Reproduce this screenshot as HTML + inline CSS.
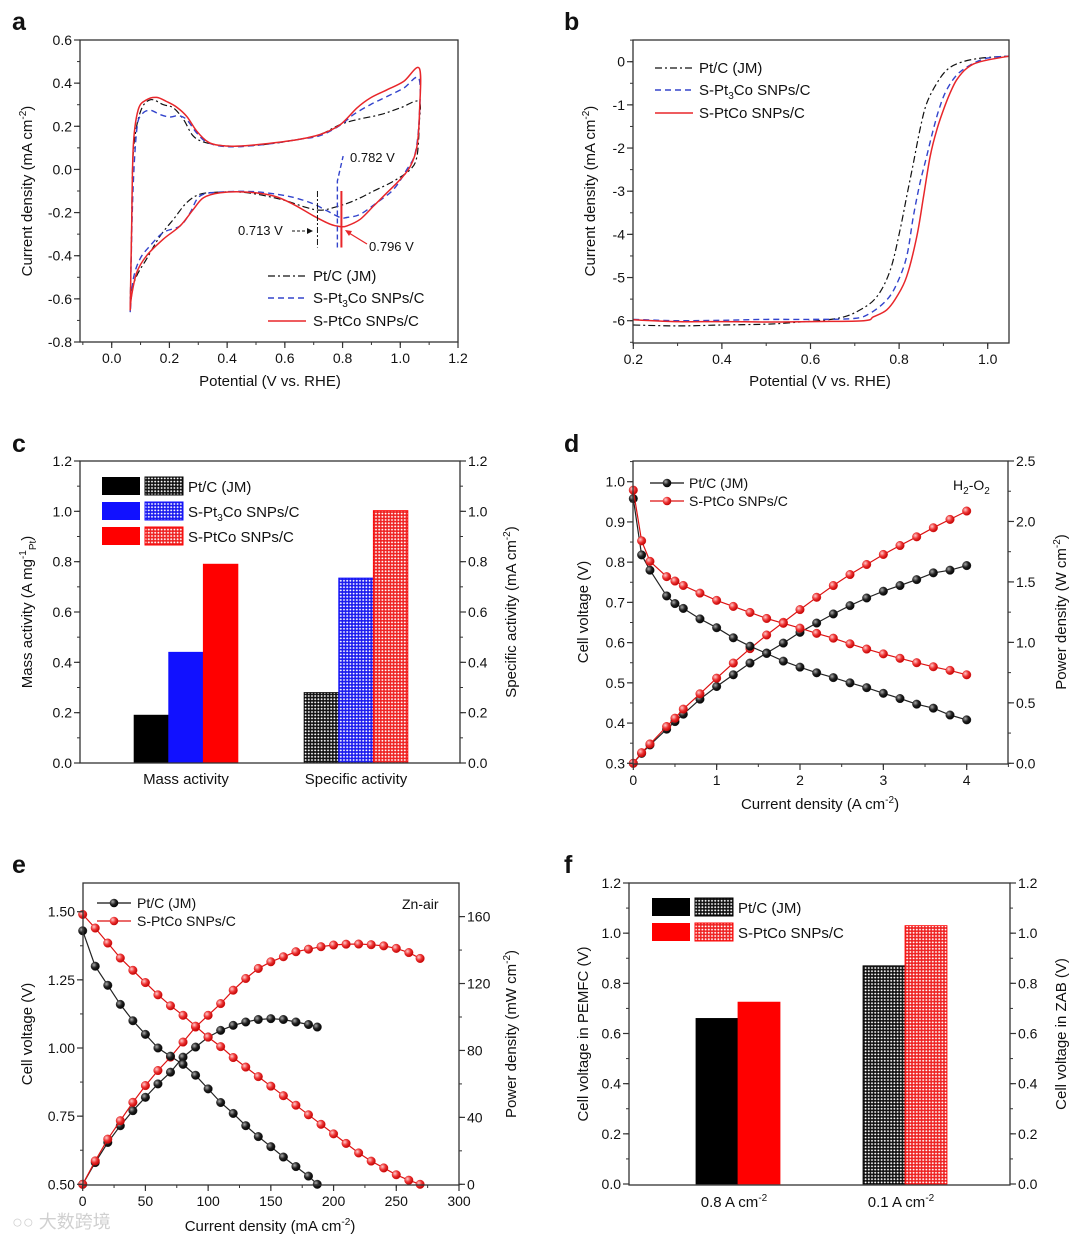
<!DOCTYPE html>
<html><head><meta charset="utf-8"><style>
html,body{margin:0;padding:0;background:#fff;}
svg{display:block;font-family:"Liberation Sans",Arial,sans-serif;}
text{fill:#111;}
</style></head>
<body>
<svg id="fig" width="1080" height="1240" viewBox="0 0 1080 1240" xmlns="http://www.w3.org/2000/svg">
<defs>
<radialGradient id="gBlack" cx="0.35" cy="0.35" r="0.7"><stop offset="0" stop-color="#aaa"/><stop offset="0.5" stop-color="#222"/><stop offset="1" stop-color="#000"/></radialGradient>
<radialGradient id="gRed" cx="0.35" cy="0.35" r="0.7"><stop offset="0" stop-color="#fcc"/><stop offset="0.5" stop-color="#e33"/><stop offset="1" stop-color="#b00"/></radialGradient>
<pattern id="hBlack" width="3.2" height="3.2" patternUnits="userSpaceOnUse"><rect width="3.2" height="3.2" fill="#111"/><circle cx="1.6" cy="1.6" r="0.95" fill="#fff"/></pattern>
<pattern id="hBlue" width="3.2" height="3.2" patternUnits="userSpaceOnUse"><rect width="3.2" height="3.2" fill="#1a1aee"/><circle cx="1.6" cy="1.6" r="0.95" fill="#fff"/></pattern>
<pattern id="hRed" width="3.2" height="3.2" patternUnits="userSpaceOnUse"><rect width="3.2" height="3.2" fill="#ee2222"/><circle cx="1.6" cy="1.6" r="0.95" fill="#fff"/></pattern>
</defs>

<text x="12" y="30" font-size="25" font-weight="bold" fill="#000">a</text>
<text x="564" y="30" font-size="25" font-weight="bold" fill="#000">b</text>
<text x="12" y="452" font-size="25" font-weight="bold" fill="#000">c</text>
<text x="564" y="452" font-size="25" font-weight="bold" fill="#000">d</text>
<text x="12" y="873" font-size="25" font-weight="bold" fill="#000">e</text>
<text x="564" y="873" font-size="25" font-weight="bold" fill="#000">f</text>

<text transform="translate(32,191) rotate(-90)" text-anchor="middle" font-size="15">Current density (mA cm<tspan dy="-6" font-size="10">-2</tspan><tspan dy="6">)</tspan></text>
<text x="270" y="386" text-anchor="middle" font-size="15">Potential (V vs. RHE)</text>
<text transform="translate(595,191) rotate(-90)" text-anchor="middle" font-size="15">Current density (mA cm<tspan dy="-6" font-size="10">-2</tspan><tspan dy="6">)</tspan></text>
<text x="820" y="386" text-anchor="middle" font-size="15">Potential (V vs. RHE)</text>

<text transform="translate(32,612) rotate(-90)" text-anchor="middle" font-size="15">Mass activity (A mg<tspan dy="-6" font-size="10">-1</tspan><tspan dy="10" font-size="10">Pt</tspan><tspan dy="-4">)</tspan></text>
<text transform="translate(516,612) rotate(-90)" text-anchor="middle" font-size="15">Specific activity (mA cm<tspan dy="-6" font-size="10">-2</tspan><tspan dy="6">)</tspan></text>

<text transform="translate(588,612) rotate(-90)" text-anchor="middle" font-size="15">Cell voltage (V)</text>
<text transform="translate(1066,612) rotate(-90)" text-anchor="middle" font-size="15">Power density (W cm<tspan dy="-6" font-size="10">-2</tspan><tspan dy="6">)</tspan></text>
<text x="820" y="809" text-anchor="middle" font-size="15">Current density (A cm<tspan dy="-6" font-size="10">-2</tspan><tspan dy="6">)</tspan></text>

<text transform="translate(32,1034) rotate(-90)" text-anchor="middle" font-size="15">Cell voltage (V)</text>
<text transform="translate(516,1034) rotate(-90)" text-anchor="middle" font-size="15">Power density (mW cm<tspan dy="-6" font-size="10">-2</tspan><tspan dy="6">)</tspan></text>
<text x="270" y="1231" text-anchor="middle" font-size="15">Current density (mA cm<tspan dy="-6" font-size="10">-2</tspan><tspan dy="6">)</tspan></text>

<text transform="translate(588,1034) rotate(-90)" text-anchor="middle" font-size="15">Cell voltage in PEMFC (V)</text>
<text transform="translate(1066,1034) rotate(-90)" text-anchor="middle" font-size="15">Cell voltage in ZAB (V)</text>

<g font-size="15">
<line x1="268" y1="276" x2="306" y2="276" stroke="#111" stroke-width="1.3" stroke-dasharray="7,3,2,3"/><text x="313" y="281">Pt/C (JM)</text>
<line x1="268" y1="298" x2="306" y2="298" stroke="#3344cc" stroke-width="1.5" stroke-dasharray="6,4"/><text x="313" y="303">S-Pt<tspan dy="4" font-size="10">3</tspan><tspan dy="-4">Co SNPs/C</tspan></text>
<line x1="268" y1="321" x2="306" y2="321" stroke="#e8262a" stroke-width="1.5"/><text x="313" y="326">S-PtCo SNPs/C</text>
</g>
<g font-size="13">
<text x="350" y="162">0.782 V</text>
<text x="238" y="235">0.713 V</text>
<text x="369" y="251">0.796 V</text>
<line x1="292" y1="231" x2="309" y2="231" stroke="#111" stroke-dasharray="3,2"/><polygon points="313,231 307,228 307,234" fill="#111"/>
<line x1="367" y1="244" x2="349" y2="233" stroke="#e8262a" stroke-width="1.3"/><polygon points="345,230 352,231 349,236" fill="#e8262a"/>
</g>
<g font-size="15">
<line x1="655" y1="68" x2="693" y2="68" stroke="#111" stroke-width="1.3" stroke-dasharray="7,3,2,3"/><text x="699" y="73">Pt/C (JM)</text>
<line x1="655" y1="90" x2="693" y2="90" stroke="#3344cc" stroke-width="1.5" stroke-dasharray="6,4"/><text x="699" y="95">S-Pt<tspan dy="4" font-size="10">3</tspan><tspan dy="-4">Co SNPs/C</tspan></text>
<line x1="655" y1="113" x2="693" y2="113" stroke="#e8262a" stroke-width="1.5"/><text x="699" y="118">S-PtCo SNPs/C</text>
</g>
<g font-size="15">
<rect x="102" y="477" width="38" height="18" fill="#000"/><rect x="145" y="477" width="38" height="18" fill="url(#hBlack)" stroke="#000"/><text x="188" y="492">Pt/C (JM)</text>
<rect x="102" y="502" width="38" height="18" fill="#1111ff"/><rect x="145" y="502" width="38" height="18" fill="url(#hBlue)" stroke="#1111ff"/><text x="188" y="517">S-Pt<tspan dy="4" font-size="10">3</tspan><tspan dy="-4">Co SNPs/C</tspan></text>
<rect x="102" y="527" width="38" height="18" fill="#ff0000"/><rect x="145" y="527" width="38" height="18" fill="url(#hRed)" stroke="#ff0000"/><text x="188" y="542">S-PtCo SNPs/C</text>
</g>
<g font-size="14">
<line x1="650" y1="483" x2="684" y2="483" stroke="#111" stroke-width="1.2"/><circle cx="667" cy="483" r="4.3" fill="url(#gBlack)"/><text x="689" y="488">Pt/C (JM)</text>
<line x1="650" y1="501" x2="684" y2="501" stroke="#d11" stroke-width="1.2"/><circle cx="667" cy="501" r="4.3" fill="url(#gRed)"/><text x="689" y="506">S-PtCo SNPs/C</text>
<text x="953" y="490">H<tspan dy="4" font-size="10">2</tspan><tspan dy="-4">-O</tspan><tspan dy="4" font-size="10">2</tspan></text>
</g>
<g font-size="14">
<line x1="97" y1="903" x2="131" y2="903" stroke="#111" stroke-width="1.2"/><circle cx="114" cy="903" r="4.3" fill="url(#gBlack)"/><text x="137" y="908">Pt/C (JM)</text>
<line x1="97" y1="921" x2="131" y2="921" stroke="#d11" stroke-width="1.2"/><circle cx="114" cy="921" r="4.3" fill="url(#gRed)"/><text x="137" y="926">S-PtCo SNPs/C</text>
<text x="402" y="909">Zn-air</text>
</g>
<g font-size="15">
<rect x="652" y="898" width="38" height="18" fill="#000"/><rect x="695" y="898" width="38" height="18" fill="url(#hBlack)" stroke="#000"/><text x="738" y="913">Pt/C (JM)</text>
<rect x="652" y="923" width="38" height="18" fill="#ff0000"/><rect x="695" y="923" width="38" height="18" fill="url(#hRed)" stroke="#ff0000"/><text x="738" y="938">S-PtCo SNPs/C</text>
</g>
<text x="12" y="1228" font-size="18" style="fill:#d0d0d0" font-family="'Liberation Sans','Noto Sans CJK SC',sans-serif">○○ 大数跨境</text>
</svg>

<script>
const aXTicks=[0,0.2,0.4,0.6,0.8,1.0,1.2];
const aXLabels=['0.0','0.2','0.4','0.6','0.8','1.0','1.2'];
const aYTicks=[0.6,0.4,0.2,0,-0.2,-0.4,-0.6,-0.8];
const aYLabels=['0.6','0.4','0.2','0.0','-0.2','-0.4','-0.6','-0.8'];
const aPtE=[0.064,0.069,0.075,0.098,0.133,0.179,0.214,0.249,0.283,0.33,0.41,0.526,0.642,0.722,0.792,0.85,0.931,1.0,1.064,1.066,1.058,1.035,0.977,0.908,0.838,0.769,0.722,0.676,0.584,0.468,0.376,0.306,0.26,0.214,0.168,0.121,0.087,0.069,0.064];
const aPtJ=[-0.646,-0.277,0.077,0.262,0.323,0.3,0.285,0.231,0.154,0.123,0.108,0.115,0.138,0.162,0.208,0.231,0.254,0.285,0.315,0.215,0.062,0.0,-0.054,-0.1,-0.146,-0.177,-0.189,-0.177,-0.138,-0.108,-0.105,-0.115,-0.154,-0.231,-0.308,-0.415,-0.492,-0.569,-0.646];
const aPt3CoE=[0.064,0.073,0.087,0.104,0.133,0.168,0.202,0.231,0.26,0.295,0.335,0.41,0.526,0.642,0.722,0.792,0.838,0.896,0.954,1.012,1.064,1.066,1.052,1.023,0.977,0.919,0.861,0.815,0.792,0.746,0.688,0.607,0.491,0.376,0.306,0.272,0.237,0.179,0.133,0.098,0.075,0.064];
const aPt3CoJ=[-0.662,-0.123,0.185,0.254,0.274,0.254,0.243,0.249,0.231,0.169,0.123,0.105,0.115,0.138,0.157,0.205,0.254,0.3,0.338,0.377,0.423,0.246,0.077,0.0,-0.092,-0.154,-0.208,-0.223,-0.223,-0.192,-0.154,-0.123,-0.103,-0.105,-0.123,-0.2,-0.262,-0.292,-0.354,-0.415,-0.508,-0.662];
const aPtCoE=[0.064,0.069,0.075,0.092,0.121,0.156,0.19,0.225,0.26,0.295,0.335,0.376,0.434,0.526,0.642,0.722,0.792,0.85,0.896,0.954,1.012,1.066,1.067,1.058,1.035,1.0,0.954,0.908,0.861,0.815,0.792,0.757,0.699,0.63,0.561,0.468,0.376,0.318,0.283,0.237,0.179,0.121,0.087,0.069,0.064];
const aPtCoJ=[-0.654,-0.277,0.108,0.277,0.323,0.334,0.315,0.289,0.246,0.177,0.126,0.111,0.108,0.118,0.138,0.162,0.208,0.285,0.331,0.369,0.408,0.469,0.277,0.108,0.015,-0.046,-0.108,-0.169,-0.231,-0.262,-0.265,-0.254,-0.215,-0.162,-0.123,-0.105,-0.108,-0.131,-0.185,-0.262,-0.323,-0.4,-0.477,-0.585,-0.654];
const aPeakE=[0.713,0.782,0.796];

const bXTicks=[0.2,0.4,0.6,0.8,1.0];
const bXLabels=['0.2','0.4','0.6','0.8','1.0'];
const bYTicks=[0,-1,-2,-3,-4,-5,-6];
const bYLabels=['0','-1','-2','-3','-4','-5','-6'];
const bPtE=[0.2,0.3,0.4,0.5,0.55,0.659,0.712,0.75,0.78,0.802,0.817,0.832,0.847,0.862,0.885,0.908,0.938,0.983,1.049];
const bPtJ=[-6.1,-6.12,-6.1,-6.08,-6.05,-5.95,-5.75,-5.44,-4.83,-3.9,-3.13,-2.36,-1.58,-0.97,-0.5,-0.19,-0.02,0.08,0.13];
const bPt3CoE=[0.2,0.3,0.4,0.5,0.6,0.697,0.734,0.772,0.795,0.817,0.832,0.847,0.862,0.877,0.892,0.907,0.93,0.96,0.998,1.049];
const bPt3CoJ=[-5.97,-6.0,-5.99,-5.97,-5.97,-5.95,-5.83,-5.52,-5.14,-4.52,-3.59,-2.82,-2.2,-1.58,-1.04,-0.66,-0.31,-0.08,0.08,0.13];
const bPtCoE=[0.2,0.3,0.4,0.5,0.6,0.72,0.742,0.772,0.795,0.817,0.84,0.855,0.87,0.885,0.9,0.915,0.93,0.953,0.983,1.049];
const bPtCoJ=[-5.98,-6.02,-6.02,-6.03,-6.02,-6.0,-5.91,-5.75,-5.44,-4.98,-4.05,-3.13,-2.2,-1.58,-1.12,-0.73,-0.42,-0.15,0.0,0.13];

const cYTicks=[0,0.2,0.4,0.6,0.8,1.0,1.2];
const cYLabels=['0.0','0.2','0.4','0.6','0.8','1.0','1.2'];
const cCats=['Mass activity','Specific activity'];
const cPt=[0.19,0.28];
const cPt3Co=[0.44,0.735];
const cPtCo=[0.79,1.003];

const dXTicks=[0,1,2,3,4];
const dXLabels=['0','1','2','3','4'];
const dYTicks=[0.3,0.4,0.5,0.6,0.7,0.8,0.9,1.0];
const dYLabels=['0.3','0.4','0.5','0.6','0.7','0.8','0.9','1.0'];
const dY2Ticks=[0,0.5,1.0,1.5,2.0,2.5];
const dY2Labels=['0.0','0.5','1.0','1.5','2.0','2.5'];
const dI=[0,0.1,0.2,0.4,0.5,0.6,0.8,1.0,1.2,1.4,1.6,1.8,2.0,2.2,2.4,2.6,2.8,3.0,3.2,3.4,3.6,3.8,4.0];
const dPtV=[0.958,0.818,0.780,0.716,0.697,0.685,0.659,0.637,0.612,0.591,0.573,0.554,0.539,0.525,0.513,0.500,0.488,0.474,0.461,0.447,0.437,0.420,0.408];
const dPtP=[0,0.082,0.152,0.282,0.345,0.406,0.530,0.635,0.732,0.829,0.912,0.994,1.083,1.160,1.235,1.304,1.367,1.423,1.470,1.519,1.575,1.597,1.635];
const dPtCoV=[0.979,0.853,0.802,0.764,0.753,0.742,0.723,0.705,0.690,0.675,0.660,0.648,0.636,0.623,0.611,0.597,0.584,0.572,0.561,0.550,0.540,0.531,0.520];
const dPtCoP=[0,0.088,0.160,0.304,0.373,0.448,0.575,0.704,0.829,0.948,1.061,1.166,1.271,1.373,1.470,1.561,1.644,1.727,1.801,1.873,1.948,2.017,2.086];

const eXTicks=[0,50,100,150,200,250,300];
const eXLabels=['0','50','100','150','200','250','300'];
const eYTicks=[0.5,0.75,1.0,1.25,1.5];
const eYLabels=['0.50','0.75','1.00','1.25','1.50'];
const eY2Ticks=[0,40,80,120,160];
const eY2Labels=['0','40','80','120','160'];
const ePtI=[0,10,20,30,40,50,60,70,80,90,100,110,120,130,140,150,160,170,180,187];
const ePtV=[1.43,1.30,1.23,1.16,1.10,1.05,1.00,0.97,0.94,0.90,0.85,0.80,0.76,0.715,0.675,0.638,0.60,0.565,0.53,0.50];
const ePtP=[0,13,25,35,44,52,60,67,76,82,88,92,95,97,98.5,99,98.5,97,95.5,94];
const ePtCoI=[0,10,20,30,40,50,60,70,80,90,100,110,120,130,140,150,160,170,180,190,200,210,220,230,240,250,260,269];
const ePtCoV=[1.49,1.44,1.385,1.33,1.285,1.24,1.195,1.155,1.12,1.08,1.04,1.005,0.965,0.93,0.895,0.86,0.825,0.79,0.755,0.72,0.685,0.65,0.615,0.585,0.56,0.535,0.515,0.50];
const ePtCoP=[0,14,27,38,49,59,68,76,85,94,101,108,116,123,129,133,136,139,140.5,142,143,143.5,143.6,143.2,142.5,141,138.5,135];

const fYTicks=[0,0.2,0.4,0.6,0.8,1.0,1.2];
const fYLabels=['0.0','0.2','0.4','0.6','0.8','1.0','1.2'];
const fCats=['0.8 A cm','0.1 A cm'];
const fPt=[0.66,0.87];
const fPtCo=[0.725,1.03];

const NS='http://www.w3.org/2000/svg';
const svg=document.getElementById('fig');
function mk(tag,attrs,parent){const e=document.createElementNS(NS,tag);for(const k in attrs)e.setAttribute(k,attrs[k]);(parent||svg).appendChild(e);return e;}
function lin(d0,d1,r0,r1){return v=>r0+(v-d0)*(r1-r0)/(d1-d0);}
function smooth(pts){
  let d='M'+pts[0][0].toFixed(1)+','+pts[0][1].toFixed(1);
  for(let i=0;i<pts.length-1;i++){
    const p0=pts[i-1]||pts[i],p1=pts[i],p2=pts[i+1],p3=pts[i+2]||p2;
    const c1=[p1[0]+(p2[0]-p0[0])/6,p1[1]+(p2[1]-p0[1])/6];
    const c2=[p2[0]-(p3[0]-p1[0])/6,p2[1]-(p3[1]-p1[1])/6];
    d+='C'+c1[0].toFixed(1)+','+c1[1].toFixed(1)+' '+c2[0].toFixed(1)+','+c2[1].toFixed(1)+' '+p2[0].toFixed(1)+','+p2[1].toFixed(1);
  }
  return d;
}
function frame(x0,y0,x1,y1,name){
  const r=mk('rect',{x:x0,y:y0,width:x1-x0,height:y1-y0,fill:'none',stroke:'#333','stroke-width':1.3});
  
  
}
function xTicks(sc,vals,labels,minorStep,lo,hi,yb,prefix){
  const g=mk('g',{});
  
  
  for(let v=lo;v<=hi+1e-9;v+=minorStep){mk('line',{x1:sc(v),x2:sc(v),y1:yb,y2:yb+3,stroke:'#333'},g);}
  vals.forEach((v,i)=>{
    mk('line',{x1:sc(v),x2:sc(v),y1:yb,y2:yb+6,stroke:'#333','stroke-width':1.2},g);
    const t=mk('text',{x:sc(v),y:yb+21,'text-anchor':'middle','font-size':14},g);
    t.textContent=labels[i];
    
    
  });
}
function yTicks(sc,vals,labels,minorStep,lo,hi,xb,dir,prefix){
  const g=mk('g',{});
  
  
  for(let v=lo;v<=hi+1e-9;v+=minorStep){mk('line',{x1:xb,x2:xb+3*dir,y1:sc(v),y2:sc(v),stroke:'#333'},g);}
  vals.forEach((v,i)=>{
    mk('line',{x1:xb,x2:xb+6*dir,y1:sc(v),y2:sc(v),stroke:'#333','stroke-width':1.2},g);
    const t=mk('text',{x:xb+(dir<0?-8:8),y:sc(v)+5,'text-anchor':dir<0?'end':'start','font-size':14},g);
    t.textContent=labels[i];
    
    
  });
}
function curve(xs,ys,sx,sy,attrs,name){
  const pts=xs.map((x,i)=>[sx(x),sy(ys[i])]);
  attrs.d=smooth(pts);attrs.fill='none';
  const p=mk('path',attrs);
  
  
}
function markerSeries(xs,ys,sx,sy,color,grad,name){
  const g=mk('g',{});
  
  
  const pts=xs.map((x,i)=>sx(x).toFixed(1)+','+sy(ys[i]).toFixed(1)).join(' ');
  mk('polyline',{points:pts,fill:'none',stroke:color,'stroke-width':1.2},g);
  xs.forEach((x,i)=>{
    const c=mk('circle',{cx:sx(x),cy:sy(ys[i]),r:4.3,fill:grad,stroke:color,'stroke-width':0.4},g);
    
    
  });
}
function bar(x,w,v,sy,fill,stroke,name){
  const r=mk('rect',{x:x,y:sy(v),width:w,height:sy(0)-sy(v),fill:fill,stroke:stroke,'stroke-width':0.8});
  
  
}

(function(){
  const sx=lin(0,1.2,111.7,458), sy=lin(-0.8,0.6,342,40);
  curve(aPtE,aPtJ,sx,sy,{stroke:'#111','stroke-width':1.2,'stroke-dasharray':'7,3,2,3'},'a-ptc-cv-curve');
  curve(aPt3CoE,aPt3CoJ,sx,sy,{stroke:'#3344cc','stroke-width':1.4,'stroke-dasharray':'6,4'},'a-pt3co-cv-curve');
  curve(aPtCoE,aPtCoJ,sx,sy,{stroke:'#e8262a','stroke-width':1.5},'a-ptco-cv-curve');
  const m1=mk('line',{x1:sx(aPeakE[0]),x2:sx(aPeakE[0]),y1:sy(-0.1),y2:sy(-0.362),stroke:'#111','stroke-dasharray':'6,2,2,2'});
  
  
  const m2=mk('path',{d:'M'+sx(aPeakE[1])+','+sy(-0.362)+'V'+sy(-0.054)+'L'+sx(aPeakE[1]+0.02)+','+sy(0.062),stroke:'#3344cc',fill:'none','stroke-width':1.4,'stroke-dasharray':'5,3'});
  
  
  const m3=mk('line',{x1:sx(aPeakE[2]),x2:sx(aPeakE[2]),y1:sy(-0.1),y2:sy(-0.362),stroke:'#e8262a','stroke-width':2});
  
  
  frame(80,40,458,342,'a-plot-frame');
  xTicks(sx,aXTicks,aXLabels,0.1,-0.1,1.2,342,'a');
  yTicks(sy,aYTicks,aYLabels,0.1,-0.8,0.6,80,-1,'a');
})();

(function(){
  const sx=lin(0.2,1.0,633.3,987.7), sy=lin(0,-6,61.7,320.7);
  curve(bPtE,bPtJ,sx,sy,{stroke:'#111','stroke-width':1.2,'stroke-dasharray':'7,3,2,3'},'b-ptc-lsv-curve');
  curve(bPt3CoE,bPt3CoJ,sx,sy,{stroke:'#3344cc','stroke-width':1.4,'stroke-dasharray':'6,4'},'b-pt3co-lsv-curve');
  curve(bPtCoE,bPtCoJ,sx,sy,{stroke:'#e8262a','stroke-width':1.5},'b-ptco-lsv-curve');
  frame(633,40,1009,343,'b-plot-frame');
  xTicks(sx,bXTicks,bXLabels,0.1,0.2,1.0,343,'b');
  yTicks(sy,bYTicks,bYLabels,0.5,-6.5,0.5,633,-1,'b');
})();

(function(){
  const sy=lin(0,1.2,763,461);
  const centers=[186,356], w=34.6;
  cCats.forEach((c,i)=>{
    const x=centers[i]-1.5*w;
    bar(x,w,cPt[i],sy,i===0?'#000':'url(#hBlack)','#000','c-bar-ptc-'+i);
    bar(x+w,w,cPt3Co[i],sy,i===0?'#1111ff':'url(#hBlue)','#1111ff','c-bar-pt3co-'+i);
    bar(x+2*w,w,cPtCo[i],sy,i===0?'#ff0000':'url(#hRed)','#ff0000','c-bar-ptco-'+i);
    const t=mk('text',{x:centers[i],y:784,'text-anchor':'middle','font-size':15});
    t.textContent=c;
    
    
  });
  frame(80,461,460,763,'c-plot-frame');
  yTicks(sy,cYTicks,cYLabels,0.1,0,1.2,80,-1,'c');
  yTicks(sy,cYTicks,cYLabels,0.1,0,1.2,460,1,'c-right');
})();

(function(){
  const sx=lin(0,4,633.3,966.7), sy=lin(0.3,1.0,763.3,481.7), sy2=lin(0,2.5,763.3,461);
  markerSeries(dI,dPtP,sx,sy2,'#222','url(#gBlack)','d-ptc-power-series');
  markerSeries(dI,dPtCoP,sx,sy2,'#d11','url(#gRed)','d-ptco-power-series');
  markerSeries(dI,dPtV,sx,sy,'#222','url(#gBlack)','d-ptc-voltage-series');
  markerSeries(dI,dPtCoV,sx,sy,'#d11','url(#gRed)','d-ptco-voltage-series');
  frame(633,461,1008,764,'d-plot-frame');
  xTicks(sx,dXTicks,dXLabels,0.5,0,4.5,764,'d');
  yTicks(sy,dYTicks,dYLabels,0.05,0.3,1.05,633,-1,'d');
  yTicks(sy2,dY2Ticks,dY2Labels,0.25,0,2.5,1008,1,'d-right');
})();

(function(){
  const sx=lin(0,300,82.7,459), sy=lin(0.5,1.5,1184.3,911.7), sy2=lin(0,160,1184.3,916.6);
  markerSeries(ePtI,ePtP,sx,sy2,'#222','url(#gBlack)','e-ptc-power-series');
  markerSeries(ePtCoI,ePtCoP,sx,sy2,'#d11','url(#gRed)','e-ptco-power-series');
  markerSeries(ePtI,ePtV,sx,sy,'#222','url(#gBlack)','e-ptc-voltage-series');
  markerSeries(ePtCoI,ePtCoV,sx,sy,'#d11','url(#gRed)','e-ptco-voltage-series');
  frame(83,883,459,1185,'e-plot-frame');
  xTicks(sx,eXTicks,eXLabels,25,0,300,1185,'e');
  yTicks(sy,eYTicks,eYLabels,0.125,0.5,1.6,83,-1,'e');
  yTicks(sy2,eY2Ticks,eY2Labels,20,0,160,459,1,'e-right');
})();

(function(){
  const sy=lin(0,1.2,1184,883);
  const centers=[738,905], w=42;
  fCats.forEach((c,i)=>{
    bar(centers[i]-w,w,fPt[i],sy,i===0?'#000':'url(#hBlack)','#000','f-bar-ptc-'+i);
    bar(centers[i],w,fPtCo[i],sy,i===0?'#ff0000':'url(#hRed)','#ff0000','f-bar-ptco-'+i);
    const t=mk('text',{x:centers[i]-4,y:1207,'text-anchor':'middle','font-size':15});
    t.textContent=c;
    const s=mk('tspan',{dy:-6,'font-size':10},t);
    s.textContent='-2';
    
    
  });
  frame(629,883,1010,1185,'f-plot-frame');
  yTicks(sy,fYTicks,fYLabels,0.1,0,1.2,629,-1,'f');
  yTicks(sy,fYTicks,fYLabels,0.1,0,1.2,1010,1,'f-right');
})();
</script>
</body></html>
